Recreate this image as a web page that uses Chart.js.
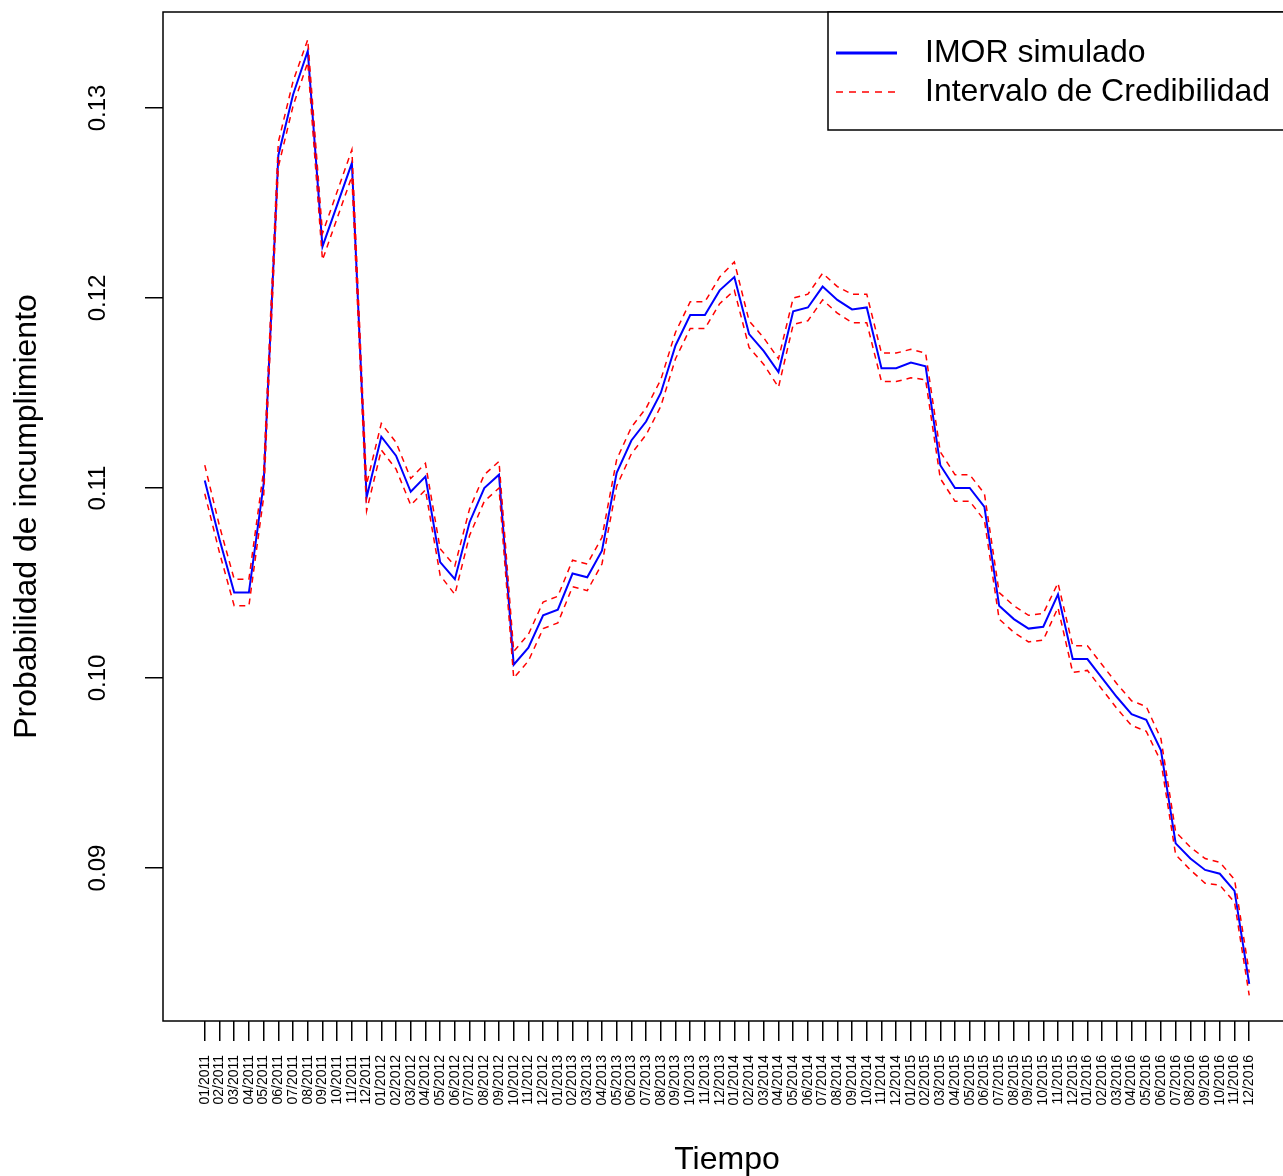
<!DOCTYPE html>
<html>
<head>
<meta charset="utf-8">
<title>IMOR simulado</title>
<script src="https://cdn.jsdelivr.net/npm/chart.js@4"></script>
<style>
  html, body { margin: 0; padding: 0; background: #fff; overflow: hidden; }
  #wrap { width: 1283px; height: 1176px; overflow: hidden; }
</style>
</head>
<body>
<div id="wrap"><canvas id="myChart" width="1300" height="1176"></canvas></div>
<script>
// months on the x axis
var meses = [
  "01/2011","02/2011","03/2011","04/2011","05/2011","06/2011","07/2011","08/2011","09/2011","10/2011","11/2011","12/2011",
  "01/2012","02/2012","03/2012","04/2012","05/2012","06/2012","07/2012","08/2012","09/2012","10/2012","11/2012","12/2012",
  "01/2013","02/2013","03/2013","04/2013","05/2013","06/2013","07/2013","08/2013","09/2013","10/2013","11/2013","12/2013",
  "01/2014","02/2014","03/2014","04/2014","05/2014","06/2014","07/2014","08/2014","09/2014","10/2014","11/2014","12/2014",
  "01/2015","02/2015","03/2015","04/2015","05/2015","06/2015","07/2015","08/2015","09/2015","10/2015","11/2015","12/2015",
  "01/2016","02/2016","03/2016","04/2016","05/2016","06/2016","07/2016","08/2016","09/2016","10/2016","11/2016","12/2016"
];

var imor = [
  0.1104, 0.1073, 0.1045, 0.1045, 0.1102, 0.1275, 0.1307, 0.1330, 0.1227, 0.1249, 0.1271, 0.1095,
  0.1127, 0.1117, 0.1098, 0.1106, 0.1061, 0.1052, 0.1082, 0.1100, 0.1107, 0.1007, 0.1016, 0.1033,
  0.1036, 0.1055, 0.1053, 0.1067, 0.1108, 0.1125, 0.1135, 0.1150, 0.1175, 0.1191, 0.1191, 0.1204,
  0.1211, 0.1181, 0.1172, 0.1161, 0.1193, 0.1195, 0.1206, 0.1199, 0.1194, 0.1195, 0.1163, 0.1163,
  0.1166, 0.1164, 0.1112, 0.1100, 0.1100, 0.1090, 0.1038, 0.1031, 0.1026, 0.1027, 0.1044, 0.1010,
  0.1010, 0.1000, 0.0990, 0.0981, 0.0978, 0.0962, 0.0913, 0.0905, 0.0899, 0.0897, 0.0888, 0.0839
];

var superior = [
  0.1112, 0.1080, 0.1052, 0.1052, 0.1109, 0.1282, 0.1314, 0.1336, 0.1234, 0.1256, 0.1278, 0.1102,
  0.1134, 0.1124, 0.1105, 0.1113, 0.1068, 0.1059, 0.1089, 0.1107, 0.1114, 0.1014, 0.1023, 0.1040,
  0.1043, 0.1062, 0.1060, 0.1074, 0.1115, 0.1132, 0.1142, 0.1157, 0.1182, 0.1198, 0.1198, 0.1211,
  0.1219, 0.1188, 0.1179, 0.1168, 0.1200, 0.1202, 0.1213, 0.1206, 0.1202, 0.1202, 0.1171, 0.1171,
  0.1173, 0.1171, 0.1119, 0.1107, 0.1107, 0.1097, 0.1045, 0.1038, 0.1033, 0.1034, 0.1050, 0.1017,
  0.1017, 0.1007, 0.0997, 0.0988, 0.0985, 0.0968, 0.0919, 0.0911, 0.0905, 0.0903, 0.0894, 0.0845
];

var inferior = [
  0.1097, 0.1066, 0.1038, 0.1038, 0.1095, 0.1269, 0.1301, 0.1324, 0.1220, 0.1242, 0.1264, 0.1088,
  0.1120, 0.1110, 0.1091, 0.1099, 0.1054, 0.1044, 0.1075, 0.1093, 0.1100, 0.1000, 0.1009, 0.1026,
  0.1029, 0.1048, 0.1046, 0.1060, 0.1101, 0.1118, 0.1128, 0.1143, 0.1168, 0.1184, 0.1184, 0.1197,
  0.1204, 0.1174, 0.1165, 0.1153, 0.1186, 0.1188, 0.1199, 0.1192, 0.1187, 0.1187, 0.1156, 0.1156,
  0.1158, 0.1157, 0.1105, 0.1093, 0.1093, 0.1083, 0.1031, 0.1024, 0.1019, 0.1020, 0.1037, 0.1003,
  0.1004, 0.0994, 0.0984, 0.0975, 0.0972, 0.0956, 0.0907, 0.0899, 0.0892, 0.0891, 0.0882, 0.0833
];

var yTicks = [0.09, 0.10, 0.11, 0.12, 0.13];
var yTickLabels = ["0.09", "0.10", "0.11", "0.12", "0.13"];

var FONT = "'Liberation Sans', Arial, Helvetica, sans-serif";
Chart.defaults.font.family = FONT;
Chart.defaults.color = "#000";

function puntos(arr) {
  return arr.map(function (v, i) { return { x: i + 1, y: v }; });
}

// R-like box around the plot region
const marco = {
  id: "marco",
  afterDatasetsDraw: function (chart) {
    const a = chart.chartArea;
    const ctx = chart.ctx;
    ctx.save();
    ctx.strokeStyle = "#000";
    ctx.lineWidth = 1.5;
    ctx.strokeRect(a.left, a.top, a.right - a.left, a.bottom - a.top);
    ctx.restore();
  }
};

// vertical y tick labels (las = 0 in R)
const etiquetasY = {
  id: "etiquetasY",
  afterDraw: function (chart) {
    const ctx = chart.ctx;
    const sy = chart.scales.y;
    ctx.save();
    ctx.fillStyle = "#000";
    ctx.font = "24px " + FONT;
    ctx.textAlign = "center";
    ctx.textBaseline = "alphabetic";
    yTicks.forEach(function (v, i) {
      const y = sy.getPixelForValue(v);
      ctx.save();
      ctx.translate(105, y);
      ctx.rotate(-Math.PI / 2);
      ctx.fillText(yTickLabels[i], 0, 0);
      ctx.restore();
    });
    ctx.restore();
  }
};

// legend box in the top right corner
const leyenda = {
  id: "leyenda",
  afterDraw: function (chart) {
    const ctx = chart.ctx;
    const top = chart.chartArea.top;
    ctx.save();
    ctx.fillStyle = "#fff";
    ctx.fillRect(828, top, 500, 118);
    ctx.strokeStyle = "#000";
    ctx.lineWidth = 1.5;
    ctx.strokeRect(828, top, 500, 118);

    ctx.strokeStyle = "#0000ff";
    ctx.lineWidth = 3;
    ctx.beginPath();
    ctx.moveTo(836, top + 41);
    ctx.lineTo(897, top + 41);
    ctx.stroke();

    ctx.strokeStyle = "#ff0000";
    ctx.lineWidth = 1.5;
    ctx.setLineDash([7, 6]);
    ctx.beginPath();
    ctx.moveTo(836, top + 80);
    ctx.lineTo(897, top + 80);
    ctx.stroke();
    ctx.setLineDash([]);

    ctx.fillStyle = "#000";
    ctx.font = "32px " + FONT;
    ctx.textAlign = "left";
    ctx.textBaseline = "middle";
    ctx.fillText(chart.data.datasets[2].label, 925, top + 41);
    ctx.fillText(chart.data.datasets[0].label, 925, top + 80);
    ctx.restore();
  }
};

const ctx = document.getElementById("myChart").getContext("2d");
const myChart = new Chart(ctx, {
  type: "line",
  data: {
    datasets: [
      {
        label: "Intervalo de Credibilidad",
        data: puntos(superior),
        borderColor: "#ff0000",
        borderWidth: 1.5,
        borderDash: [6, 5],
        pointRadius: 0,
        fill: false,
        order: 0
      },
      {
        label: "Intervalo de Credibilidad (inf)",
        data: puntos(inferior),
        borderColor: "#ff0000",
        borderWidth: 1.5,
        borderDash: [6, 5],
        pointRadius: 0,
        fill: false,
        order: 0
      },
      {
        label: "IMOR simulado",
        data: puntos(imor),
        borderColor: "#0000ff",
        borderWidth: 2,
        pointRadius: 0,
        fill: false,
        order: 1
      }
    ]
  },
  options: {
    responsive: false,
    animation: false,
    devicePixelRatio: 1,
    layout: { padding: { top: 12, right: 9, left: 0, bottom: 0 } },
    plugins: {
      legend: { display: false },
      tooltip: { enabled: false }
    },
    elements: { line: { tension: 0 } },
    scales: {
      x: {
        type: "linear",
        min: -1.84,
        max: 74.84,
        afterBuildTicks: function (scale) {
          scale.ticks = meses.map(function (m, i) { return { value: i + 1 }; });
        },
        afterFit: function (scale) { scale.height = 155; },
        ticks: {
          autoSkip: false,
          minRotation: 90,
          maxRotation: 90,
          padding: 14,
          font: { size: 14 },
          color: "#000",
          callback: function (value) { return meses[value - 1]; }
        },
        grid: {
          drawOnChartArea: false,
          drawTicks: true,
          tickLength: 20,
          color: "#000",
          lineWidth: 1.5
        },
        border: { display: false },
        title: {
          display: true,
          text: "Tiempo",
          font: { size: 32, lineHeight: 1 },
          padding: 0,
          color: "#000"
        }
      },
      y: {
        type: "linear",
        min: 0.08195,
        max: 0.13505,
        afterBuildTicks: function (scale) {
          scale.ticks = yTicks.map(function (v) { return { value: v }; });
        },
        afterFit: function (scale) { scale.width = 163; },
        ticks: { display: false },
        grid: {
          drawOnChartArea: false,
          drawTicks: true,
          tickLength: 18,
          color: "#000",
          lineWidth: 1.5
        },
        border: { display: false },
        title: {
          display: true,
          text: "Probabilidad de incumplimiento",
          font: { size: 32, lineHeight: 1 },
          padding: { top: 11, bottom: 0 },
          color: "#000"
        }
      }
    }
  },
  plugins: [marco, etiquetasY, leyenda]
});
</script>
</body>
</html>
